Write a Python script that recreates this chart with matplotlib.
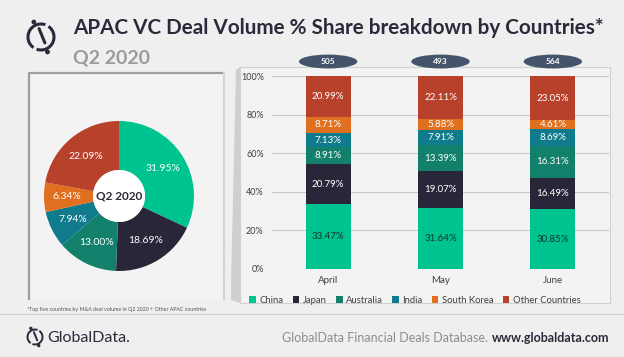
import matplotlib
matplotlib.use("Agg")
import matplotlib.pyplot as plt
from matplotlib.patches import Rectangle, Ellipse, Arc, Polygon, Circle
import numpy as np

# ---- data ----
countries = ["China", "Japan", "Australia", "India", "South Korea", "Other Countries"]
colors = ["#00c48f", "#29263a", "#12806a", "#0f7b8c", "#e0701f", "#b7412a"]
q2_share = [31.95, 18.69, 13.00, 7.94, 6.34, 22.09]
months = ["April", "May", "June"]
deal_volume = [505, 493, 564]
china = [33.47, 31.64, 30.85]
japan = [20.79, 19.07, 16.49]
australia = [8.91, 13.39, 16.31]
india = [7.13, 7.91, 8.69]
south_korea = [8.71, 5.88, 4.61]
other = [20.99, 22.11, 23.05]
series = [china, japan, australia, india, south_korea, other]
yticks = [0, 20, 40, 60, 80, 100]

W, H = 624, 357
plt.rcParams['font.family'] = ['Lato', 'DejaVu Sans']
fig = plt.figure(figsize=(W / 100, H / 100), dpi=100)
fig.patch.set_facecolor("#efefef")

# background axes in pixel coordinates
bg = fig.add_axes([0, 0, 1, 1])
bg.set_xlim(0, W)
bg.set_ylim(H, 0)
bg.axis("off")

dark = "#2b2a3b"

def logo(cx, cy, r, lw):
    bg.add_patch(Arc((cx, cy), 2 * r, 2 * r, theta1=125, theta2=290, lw=lw, color=dark))
    bg.add_patch(Arc((cx, cy), 2 * r, 2 * r, theta1=-55, theta2=110, lw=lw, color=dark))
    bg.plot([cx - 0.15 * r, cx + 0.3 * r], [cy - 0.65 * r, cy + 0.45 * r], color=dark, lw=lw,
            solid_capstyle="round")
    bg.add_patch(Circle((cx - 0.55 * r, cy - 1.15 * r), 0.13 * r, color=dark))
    bg.add_patch(Circle((cx + 0.5 * r, cy + 1.15 * r), 0.13 * r, color=dark))

logo(41, 37, 13, 2.2)
bg.text(73, 34, "APAC VC Deal Volume % Share breakdown by Countries*", fontsize=14.9,
        fontweight="bold", color=dark, ha="left", va="baseline")
bg.text(73, 63, "Q2 2020", fontsize=14, fontweight="bold", color="#9b9b9b", ha="left", va="baseline")

# left panel
bg.add_patch(Rectangle((28, 72), 195, 227, facecolor="#f3f3f3", edgecolor="none"))
bg.plot([29, 29, 223], [299, 73, 73], color="#9e9e9e", lw=1.6)
bg.plot([223.5, 223.5], [73, 299], color="#d4d4d4", lw=1.5)

# right panel with shadow
bg.add_patch(Polygon([[236, 70], [240, 67], [240, 303], [231, 300], [231, 285]], closed=True,
                     facecolor="#cfcfcf", edgecolor="none"))
bg.add_patch(Rectangle((240, 67), 370, 236, facecolor="#f3f3f3", edgecolor="#d0d0d0", lw=0.8))

# footnote + separator
bg.text(27, 310, "*Top five countries by M&A deal volume in Q2 2020 + Other APAC countries",
        fontsize=3.8, color="#555555", ha="left", va="center")
bg.plot([0, W], [314, 314], color="#cfcfcf", lw=0.8)

# footer
logo(35, 337, 7.5, 1.4)
bg.text(47, 341.5, "GlobalData.", fontsize=11.5, color=dark, ha="left", va="baseline")
t2 = bg.text(609, 341.5, "www.globaldata.com", fontsize=9, fontweight="bold", color=dark,
             ha="right", va="baseline")
fig.canvas.draw()
bb = t2.get_window_extent()
bg.text(bb.x0 - 3, 341.5, "GlobalData Financial Deals Database.", fontsize=9, color="#8d8d8d",
        ha="right", va="baseline")

# ---- pie ----
pcx, pcy, R = 119, 196, 75
pax = fig.add_axes([(pcx - 80) / W, (H - pcy - 80) / H, 160 / W, 160 / H])
pax.axis("off")
wedges, _ = pax.pie(q2_share, colors=colors, startangle=90, counterclock=False, radius=R,
                    wedgeprops=dict(width=R - 26, edgecolor="none"))
pax.set_xlim(-80, 80)
pax.set_ylim(-80, 80)
pax.add_patch(Circle((0, 0), 26, facecolor="white", edgecolor="none"))
for w, v in zip(wedges, q2_share):
    ang = np.deg2rad((w.theta1 + w.theta2) / 2)
    pax.text(52 * np.cos(ang), 52 * np.sin(ang), f"{v:.2f}%", ha="center", va="center",
             fontsize=7.5, color="white")
pax.text(0, 0, "Q2 2020", ha="center", va="center", fontsize=8.5, fontweight="bold", color=dark)

# ---- stacked bars ----
ax = fig.add_axes([272 / W, (H - 269) / H, 337 / W, 193 / H])
ax.set_facecolor("none")
x = np.arange(len(months))
bottom = np.zeros(len(months))
for name, vals, c in zip(countries, series, colors):
    vals = np.array(vals)
    ax.bar(x, vals, 0.4, bottom=bottom, color=c, label=name, zorder=3)
    for xi, b, v in zip(x, bottom, vals):
        ax.text(xi, b + v / 2, f"{v:.2f}%", ha="center", va="center", fontsize=7,
                color="#17332c" if name == "China" else "white", zorder=4)
    bottom += vals
ax.set_xlim(-0.5, 2.5)
ax.set_ylim(0, 100)
ax.set_yticks(yticks)
ax.set_yticklabels([f"{t}%" for t in yticks], fontsize=6.5, color="#404040")
ax.set_xticks(x)
ax.set_xticklabels(months, fontsize=7, color="#404040")
ax.tick_params(length=0, pad=6)
ax.tick_params(axis="x", pad=5)
for s in ax.spines.values():
    s.set_visible(False)
ax.grid(axis="y", color="#c8c8c8", lw=0.8, zorder=0)
ax.legend(loc="upper center", bbox_to_anchor=(0.424, -0.095), ncol=6, frameon=False,
          fontsize=6.8, handlelength=0.7, handleheight=0.7, handletextpad=0.35,
          columnspacing=1.0, labelcolor="#404040")

# deal volume ellipses
for xi, v in zip(x, deal_volume):
    ax.add_patch(Ellipse((xi, 107.5), 0.52, 7.2, facecolor="#44546a", edgecolor="none",
                         clip_on=False, zorder=5))
    ax.text(xi, 107.5, str(v), ha="center", va="center", fontsize=6, fontweight="bold",
            color="white", zorder=6, clip_on=False)

fig.savefig("out.png", dpi=100, facecolor=fig.get_facecolor())
